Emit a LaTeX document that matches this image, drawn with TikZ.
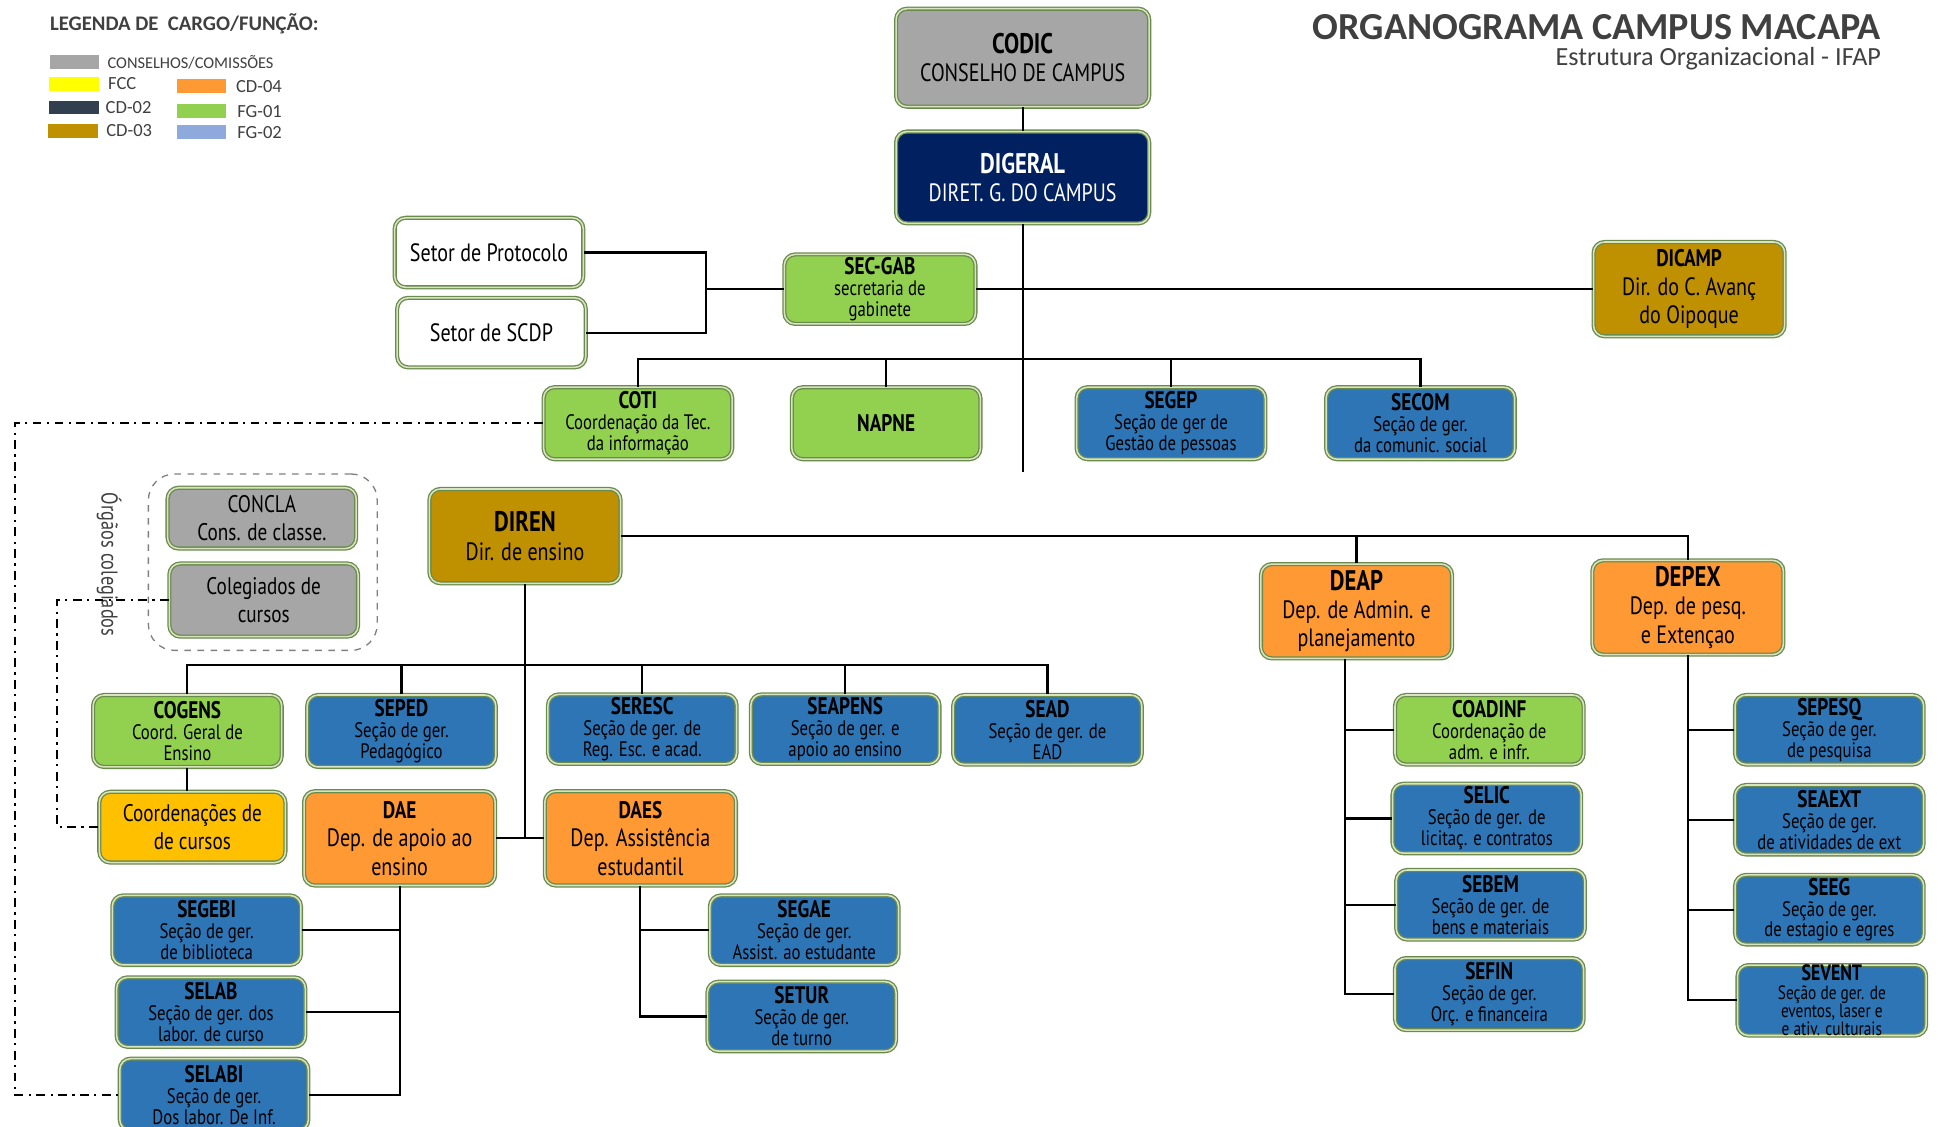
\documentclass[tikz,border=0pt]{standalone}
\usepackage{fontspec}
\usetikzlibrary{positioning,fit}
\newfontfamily\caixafont{PT Sans}[FakeStretch=0.8]
\newfontfamily\legfont{Carlito}
\definecolor{cinza}{HTML}{A6A6A6}
\definecolor{amarelo}{HTML}{FFFF00}
\definecolor{ambar}{HTML}{FFC000}
\definecolor{escuro}{HTML}{323F4F}
\definecolor{marinho}{HTML}{002060}
\definecolor{ouro}{HTML}{BF9000}
\definecolor{laranja}{HTML}{FF9933}
\definecolor{verde}{HTML}{92D050}
\definecolor{azulclaro}{HTML}{8EA9DB}
\definecolor{azul}{HTML}{2E75B6}
\definecolor{borda}{HTML}{6B8A4E}
\definecolor{bordaclara}{HTML}{D7E4BD}
\definecolor{textocinza}{HTML}{404040}
\newcommand{\tit}[1]{{\fontsize{11}{10}\selectfont\bfseries #1}}
\newcommand{\titg}[1]{{\fontsize{13}{13}\selectfont\bfseries #1}}
\tikzset{
	caixa/.style={draw=borda, double=bordaclara, double distance=0.7pt,
		line width=0.6pt, rounded corners=5pt, align=center, inner sep=1pt,
		minimum width=3.04cm, minimum height=1.12cm,
		font=\caixafont\fontsize{9.6}{9.6}\selectfont},
	grande/.style={caixa, minimum width=3.08cm, minimum height=1.52cm,
		font=\caixafont\fontsize{11.5}{13}\selectfont},
	linha/.style={line width=1pt},
	tracoponto/.style={line width=0.9pt, dash pattern=on 4pt off 2.5pt on 1pt off 2.5pt},
	grupo/.style={draw=gray, dashed, rounded corners=12pt, line width=0.6pt,
		inner xsep=8.5pt, inner ysep=6pt},
	amostra/.style={minimum width=0.8cm, minimum height=0.22cm, inner sep=0pt},
	leg/.style={font=\legfont\fontsize{8.5}{9}\selectfont, text=textocinza, inner sep=0pt}
}
\begin{document}
\begin{tikzpicture}[x=0.02cm, y=-0.02cm]
	\useasboundingbox (0,0) rectangle (1568,908);
	\fill[white] (0,0) rectangle (1568,908);
	% legenda
	\node[anchor=west, font=\legfont\bfseries\fontsize{9.5}{10}\selectfont, text=textocinza, inner sep=0pt] (legenda) at (40,19) {LEGENDA DE\ \ CARGO/FUNÇÃO:};
	\node[amostra, fill=cinza] (amcons) at (60,50) {};
	\node[leg, font=\legfont\fontsize{7.5}{8}\selectfont, right=0.12cm of amcons] {CONSELHOS/COMISSÕES};
	\node[amostra, fill=amarelo] (amfcc) at (59.5,67.5) {};
	\node[leg, right=0.14cm of amfcc] {FCC};
	\node[amostra, fill=escuro] (amcd2) at (59.5,86.5) {};
	\node[leg, right=0.1cm of amcd2] {CD-02};
	\node[amostra, fill=ouro] (amcd3) at (59,105.5) {};
	\node[leg, right=0.12cm of amcd3] {CD-03};
	\node[amostra, fill=laranja] (amcd4) at (162.5,69.5) {};
	\node[leg, right=0.14cm of amcd4] {CD-04};
	\node[amostra, fill=verde] (amfg1) at (162.5,89.5) {};
	\node[leg, right=0.16cm of amfg1] {FG-01};
	\node[amostra, fill=azulclaro] (amfg2) at (162.5,106.5) {};
	\node[leg, right=0.16cm of amfg2] {FG-02};
	% titulo
	\node[anchor=east, inner sep=0pt, font=\legfont\bfseries\fontsize{17.5}{18}\selectfont, text=textocinza] (titulo) at (1516,22) {ORGANOGRAMA CAMPUS MACAPA};
	\node[anchor=east, inner sep=0pt, font=\legfont\fontsize{12}{12}\selectfont, text=textocinza] (subtitulo) at (1516,47) {Estrutura Organizacional - IFAP};
	% conselho e direcao geral
	\node[grande, fill=cinza, minimum width=4.08cm, minimum height=1.58cm] (codic) at (824,46.5) {\titg{CODIC}\\CONSELHO DE CAMPUS};
	\node[grande, fill=marinho, text=white, minimum width=4.08cm, minimum height=1.48cm] (digeral) at (824,143) {\titg{DIGERAL}\\DIRET. G. DO CAMPUS};
	\node[caixa, fill=white, font=\caixafont\fontsize{11.5}{13}\selectfont] (protocolo) at (394,203.5) {Setor de Protocolo};
	\node[caixa, fill=white, font=\caixafont\fontsize{11.5}{13}\selectfont] (scdp) at (396,268) {Setor de SCDP};
	\node[caixa, fill=verde, minimum width=3.08cm] (secgab) at (709,233) {\tit{SEC-GAB}\\secretaria de\\gabinete};
	\node[grande, fill=ouro] (dicamp) at (1361,233) {\tit{DICAMP}\\Dir. do C. Avanç\\do Oipoque};
	\node[caixa, fill=verde, minimum height=1.16cm] (coti) at (514,341) {\tit{COTI}\\Coordenação da Tec.\\da informação};
	\node[caixa, fill=verde, minimum height=1.16cm] (napne) at (714,341) {\tit{NAPNE}};
	\node[caixa, fill=azul, minimum height=1.16cm] (segep) at (943.5,341) {\tit{SEGEP}\\Seção de ger de\\Gestão de pessoas};
	\node[caixa, fill=azul, minimum height=1.16cm] (secom) at (1144.5,341) {\tit{SECOM}\\Seção de ger.\\da comunic. social};
	% orgaos colegiados
	\node[caixa, fill=cinza, minimum height=0.98cm, font=\caixafont\fontsize{11}{13}\selectfont] (concla) at (211,417.5) {CONCLA\\Cons. de classe.};
	\node[caixa, fill=cinza, minimum height=1.18cm, font=\caixafont\fontsize{11}{13}\selectfont] (colegiados) at (212.5,483.5) {Colegiados de\\cursos};
	\node[grupo, fit=(concla)(colegiados)] (orgaos) {};
	\node[rotate=-90, font=\caixafont\fontsize{10.5}{11}\selectfont, text=textocinza] (rotulo) at (88,455) {Órgãos colegiados};
	% direcao de ensino
	\node[grande, fill=ouro] (diren) at (423,432) {\titg{DIREN}\\Dir. de ensino};
	\node[caixa, fill=verde, minimum height=1.16cm] (cogens) at (151,589) {\tit{COGENS}\\Coord. Geral de\\Ensino};
	\node[caixa, fill=azul, minimum height=1.16cm] (seped) at (323.5,589) {\tit{SEPED}\\Seção de ger.\\Pedagógico};
	\node[caixa, fill=azul] (seresc) at (517.5,587.5) {\tit{SERESC}\\Seção de ger. de\\Reg. Esc. e acad.};
	\node[caixa, fill=azul] (seapens) at (681,587.5) {\tit{SEAPENS}\\Seção de ger. e\\apoio ao ensino};
	\node[caixa, fill=azul] (sead) at (844,588) {\tit{SEAD}\\Seção de ger. de\\EAD};
	\node[caixa, fill=ambar, minimum width=3cm, minimum height=1.14cm, font=\caixafont\fontsize{11}{13}\selectfont] (coordcursos) at (155,666.5) {Coordenações de\\de cursos};
	\node[grande, fill=laranja] (dae) at (322,675.5) {\tit{DAE}\\Dep. de apoio ao\\ensino};
	\node[grande, fill=laranja] (daes) at (516,675.5) {\tit{DAES}\\Dep. Assistência\\estudantil};
	\node[caixa, fill=azul] (segebi) at (166.5,749.5) {\tit{SEGEBI}\\Seção de ger.\\de biblioteca};
	\node[caixa, fill=azul] (selab) at (170,815.5) {\tit{SELAB}\\Seção de ger. dos\\labor. de curso};
	\node[caixa, fill=azul, minimum height=1.16cm] (selabi) at (172.5,882) {\tit{SELABI}\\Seção de ger.\\Dos labor. De Inf.};
	\node[caixa, fill=azul] (segae) at (648,749.5) {\tit{SEGAE}\\Seção de ger.\\Assist. ao estudante};
	\node[caixa, fill=azul] (setur) at (646,819) {\tit{SETUR}\\Seção de ger.\\de turno};
	% departamentos
	\node[grande, fill=laranja] (deap) at (1093,492.5) {\titg{DEAP}\\Dep. de Admin. e\\planejamento};
	\node[grande, fill=laranja] (depex) at (1360,489.5) {\titg{DEPEX}\\Dep. de pesq.\\e Extençao};
	\node[caixa, fill=verde] (coadinf) at (1200,588) {\tit{COADINF}\\Coordenação de\\adm. e infr.};
	\node[caixa, fill=azul] (selic) at (1198,659.5) {\tit{SELIC}\\Seção de ger. de\\licitaç. e contratos};
	\node[caixa, fill=azul] (sebem) at (1201,729) {\tit{SEBEM}\\Seção de ger. de\\bens e materiais};
	\node[caixa, fill=azul, minimum height=1.16cm] (sefin) at (1200,801) {\tit{SEFIN}\\Seção de ger.\\Orç. e financeira};
	\node[caixa, fill=azul] (sepesq) at (1474,588) {\tit{SEPESQ}\\Seção de ger.\\de pesquisa};
	\node[caixa, fill=azul] (seaext) at (1474,660.5) {\tit{SEAEXT}\\Seção de ger.\\de atividades de ext};
	\node[caixa, fill=azul] (seeg) at (1474,733) {\tit{SEEG}\\Seção de ger.\\de estagio e egres};
	\node[caixa, fill=azul, inner sep=0pt, font=\caixafont\fontsize{8.8}{8.3}\selectfont] (sevent) at (1476,806) {{\fontsize{10.2}{9}\selectfont\bfseries SEVENT}\\Seção de ger. de\\eventos, laser e\\e ativ. culturais};
	% ligacoes
	\coordinate (fimtronco) at (824,380);
	\coordinate (jgab) at (569,233);
	\coordinate (nivel1) at (0,289);
	\coordinate (nivel2) at (0,536);
	\coordinate (margem1) at (12,0);
	\coordinate (margem2) at (46,0);
	\coordinate (tdeap) at ([xshift=-0.18cm]deap.south);
	\draw[linha] (codic) -- (digeral);
	\draw[linha] (digeral) -- (fimtronco);
	\draw[linha] (protocolo.east) -| (jgab) |- (scdp.east);
	\draw[linha] (jgab) -- (secgab.west);
	\draw[linha] (secgab.east) -- (dicamp.west);
	\draw[linha] (coti.north) |- (nivel1 -| secom.north) -- (secom.north);
	\foreach \n in {napne,segep}
		\draw[linha] (\n.north) -- (\n.north |- nivel1);
	\draw[tracoponto] (coti.west) -- (coti.west -| margem1) |- (selabi.west);
	\draw[tracoponto] (colegiados.west) -- (colegiados.west -| margem2) |- (coordcursos.west);
	\draw[linha] (diren.east) -| (depex.north);
	\draw[linha] (deap.north) -- (deap.north |- diren.east);
	\draw[linha] (diren.south) -- (diren.south |- dae.east);
	\draw[linha] (dae.east) -- (daes.west);
	\draw[linha] (cogens.north) |- (nivel2 -| sead.north) -- (sead.north);
	\foreach \n in {seped,seresc,seapens}
		\draw[linha] (\n.north) -- (\n.north |- nivel2);
	\draw[linha] (cogens.south) -- (cogens.south |- coordcursos.north);
	\draw[linha] (dae.south) |- (selabi.east);
	\foreach \n in {segebi,selab}
		\draw[linha] (\n.east) -- (\n.east -| dae.south);
	\draw[linha] (daes.south) |- (setur.west);
	\draw[linha] (segae.west) -- (segae.west -| daes.south);
	\draw[linha] (tdeap) |- (sefin.west);
	\foreach \n in {coadinf,selic,sebem}
		\draw[linha] (\n.west) -- (\n.west -| tdeap);
	\draw[linha] (depex.south) |- (sevent.west);
	\foreach \n in {sepesq,seaext,seeg}
		\draw[linha] (\n.west) -- (\n.west -| depex.south);
\end{tikzpicture}
\end{document}
